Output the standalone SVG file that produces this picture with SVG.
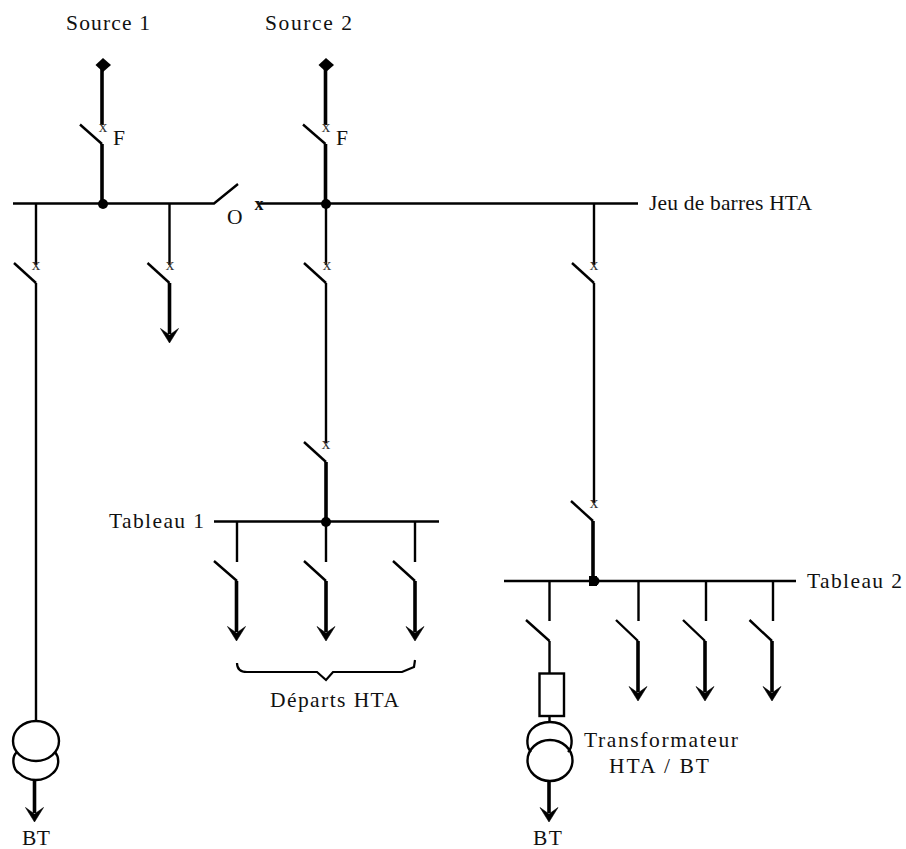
<svg xmlns="http://www.w3.org/2000/svg" width="906" height="849" viewBox="0 0 906 849">
<style>
text{font-family:"Liberation Serif","Times New Roman",serif;font-size:21.5px;fill:#111}
.x{font-size:17px;text-anchor:middle;fill:#333}
.bx{font-size:18px;font-weight:bold;text-anchor:middle}
.l{fill:none;stroke:#000;stroke-width:2.4}
.t{fill:none;stroke:#000;stroke-width:3.6}
.s{fill:none;stroke:#000;stroke-width:2.2}
.d{fill:#000}
</style>
<defs>
<marker id="arrow" markerUnits="userSpaceOnUse" markerWidth="22" markerHeight="22" viewBox="-3 -11 22 22" refX="5" refY="0" orient="auto"><path d="M-0.500,-9 L14,0 L-0.500,9 L6,0 Z" fill="#000" stroke="#000" stroke-width="0.6"/></marker>
</defs>
<g id="connectors">
<path class="l" d="M13,203.500H214L238,184"/>
<path class="l" d="M258,203.500H638"/>
<path class="t" d="M102,66V125"/>
<path class="t" d="M102,144V204"/>
<path class="t" d="M325.500,66V125"/>
<path class="t" d="M325.500,144V204"/>
<path class="l" d="M36,203V265M36,283V721"/>
<path class="l" d="M169.500,203V265"/>
<path class="t" d="M169.500,283V334" marker-end="url(#arrow)"/>
<path class="l" d="M326,203V265M326,283V443"/>
<path class="t" d="M326,462V522"/>
<path class="l" d="M594,203V265M594,283V503"/>
<path class="t" d="M593,521V581"/>
<path class="l" d="M214,521.500H439"/>
<path class="l" d="M504,581H796"/>
<path class="l" d="M237,522V562M326,522V562M415,522V562"/>
<path class="t" d="M236.500,581V632" marker-end="url(#arrow)"/>
<path class="t" d="M326,581V632" marker-end="url(#arrow)"/>
<path class="t" d="M415,581V632" marker-end="url(#arrow)"/>
<path class="l" d="M549.500,581V621M638.500,581V621M706,581V621M773,581V621"/>
<path class="l" d="M549.500,641V673M549.500,716V722"/>
<path class="t" d="M638,641V692" marker-end="url(#arrow)"/>
<path class="t" d="M705,641V692" marker-end="url(#arrow)"/>
<path class="t" d="M772,641V692" marker-end="url(#arrow)"/>
<path class="t" d="M34.500,780V813" marker-end="url(#arrow)"/>
<path class="t" d="M549,781V813" marker-end="url(#arrow)"/>
<path class="s" d="M237,663C237,669 241,672 247,672H317L326,680L333,672H402L414,667L415,660"/>
</g>
<g id="source-1"><text x="66" y="30" textLength="84">Source 1</text><path class="d" d="M103,58L111,65L103,72L95.500,65Z"/></g>
<g id="source-2"><text x="265" y="30" textLength="87">Source 2</text><path class="d" d="M326,58L334,65L326,72L318.500,65Z"/></g>
<g id="breaker-f1"><path class="l" d="M80,124.500L102,144"/><text class="x" x="103" y="132">x</text><text x="113" y="145">F</text></g>
<g id="breaker-f2"><path class="l" d="M303,124.500L325.500,144"/><text class="x" x="326" y="132">x</text><text x="336" y="145">F</text></g>
<g id="busbar-hta"><circle class="d" cx="103" cy="204" r="5"/><circle class="d" cx="326" cy="204" r="5"/><text x="649" y="210" textLength="163">Jeu de barres HTA</text></g>
<g id="coupler-o"><text x="227" y="224">O</text><text class="bx" x="259" y="210">x</text></g>
<g id="switch-a"><path class="l" d="M14,263L36,283"/><text class="x" x="36" y="270">x</text></g>
<g id="switch-b"><path class="l" d="M147.500,263L169.500,283"/><text class="x" x="170" y="270">x</text></g>
<g id="switch-c"><path class="l" d="M304,263L326,283"/><text class="x" x="327" y="270">x</text></g>
<g id="switch-d"><path class="l" d="M572,263L594,283"/><text class="x" x="594" y="270">x</text></g>
<g id="switch-e"><path class="l" d="M304,442L326,462"/><text class="x" x="326" y="449">x</text></g>
<g id="switch-f"><path class="l" d="M571,501L593,521"/><text class="x" x="594" y="508">x</text></g>
<g id="tableau-1"><circle class="d" cx="326" cy="522" r="5"/><text x="109" y="528" textLength="95">Tableau 1</text></g>
<g id="departs-t1"><path class="l" d="M214,561L237,581M304,561L326,581M393,561L415,581"/><text x="270" y="707" textLength="129">Départs HTA</text></g>
<g id="tableau-2"><rect class="d" x="589" y="576" width="8" height="10"/><circle class="d" cx="595" cy="581" r="4.500"/><text x="807" y="588" textLength="95">Tableau 2</text></g>
<g id="departs-t2"><path class="l" d="M526,620L549.500,641M616,620L638,641M683,620L705,641M749.500,620L772,641"/></g>
<g id="fuse"><rect class="l" x="539.500" y="673.500" width="24.500" height="42.500"/></g>
<g id="transformer-1"><ellipse class="l" cx="36" cy="741" rx="23" ry="20"/><path class="l" d="M17,752C11,757 13,770 19,773C25,779 32,780 36,780C42,780 48,778 53,773C59,768 60,758 55,752"/><text x="22" y="845" textLength="28">BT</text></g>
<g id="transformer-2"><ellipse class="l" cx="550" cy="760.500" rx="22.500" ry="20.500"/><path class="l" d="M531,752C526,747 526,735 532,729C538,723 544,722 550,722C556,722 562,723 567,729C573,735 573,747 568,752"/><text x="584" y="747" textLength="154">Transformateur</text><text x="609" y="773" textLength="100">HTA / BT</text><text x="533" y="845" textLength="29">BT</text></g>
</svg>
